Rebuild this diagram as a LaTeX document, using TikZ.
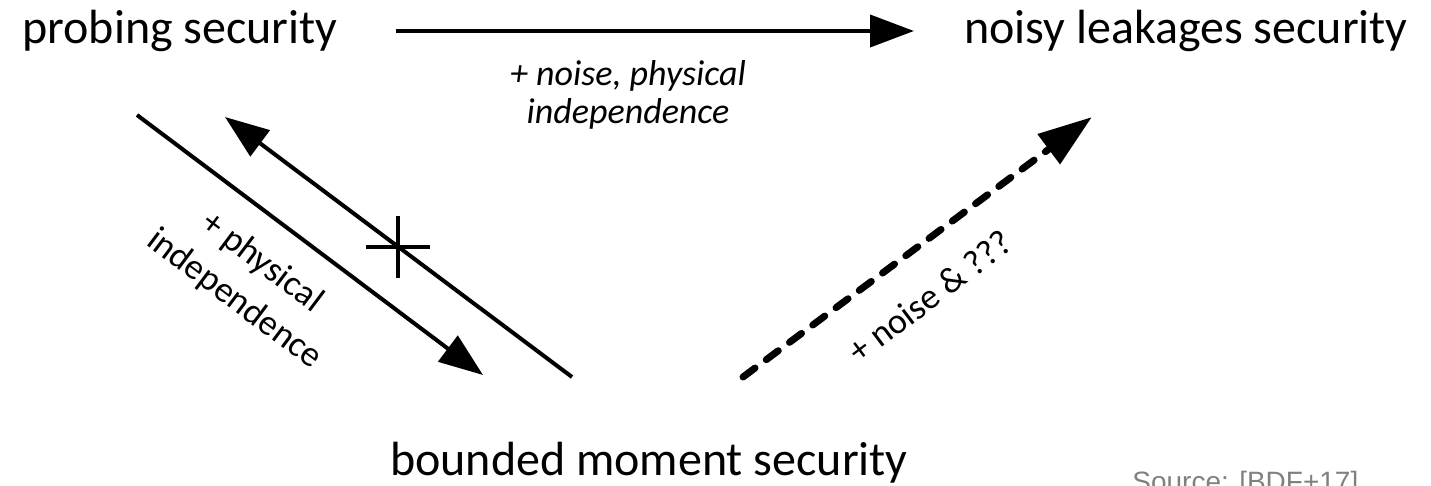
\documentclass[tikz,border=0pt]{standalone}
\usepackage{fontspec}
\setmainfont{Carlito}
\newfontfamily\sourcefont{Liberation Sans}
\usetikzlibrary{arrows.meta,positioning}
\tikzset{
	notion/.style={inner sep=0pt, font=\fontsize{24}{28}\selectfont},
	remark/.style={inner sep=0pt, align=center, font=\fontsize{18}{23}\selectfont},
	implies/.style={line width=2pt, -{Triangle[length=22pt,width=16pt]}},
	maybe/.style={line width=3.5pt, line cap=round, dash pattern=on 7.5pt off 7pt, -{Triangle[length=27pt,width=18pt]}}
}

\begin{document}
\begin{tikzpicture}[x=0.5pt,y=-0.5pt]
		\useasboundingbox (0,0) rectangle (1431,486);
		% Draw the notions
		\node[notion, anchor=base west] (probing) at (22,44) {probing security};
		\node[notion, anchor=base east] (noisy) at (1408,44) {noisy leakages security};
		\node[notion, anchor=base] (bounded) at (649,475) {bounded moment security};
		% Ends of the arrows
		\coordinate (p1) at (396,31);
		\coordinate (n1) at (914,31);
		\coordinate (p2) at (137,115);
		\coordinate (b1) at (483,375);
		\coordinate (b2) at (572,377);
		\coordinate (p3) at (225,117);
		\coordinate (b3) at (743,377);
		\coordinate (n2) at (1092,117);
		\coordinate (cross) at (398,247);
		% Draw the arrows
		\draw[implies] (p1) -- (n1);
		\draw[implies] (p2) -- (b1);
		\draw[implies] (b2) -- (p3);
		\draw[maybe] (b3) -- (n2);
		% Draw the cross
		\draw[line width=1.75pt] (cross) ++(-32,0) -- ++(64,0);
		\draw[line width=1.75pt] (cross) ++(0,-31) -- ++(0,62);
		% Draw the labels
		\node[remark, font=\fontsize{18}{19}\selectfont\itshape, anchor=north] (topnote) at (628,60) {+ noise, physical\\independence};
		\node[remark, rotate=-37] (leftnote) at (248,281) {+ physical\\independence};
		\node[remark, rotate=37] (rightnote) at (930,296) {+ noise \& ???};
		\node[anchor=base west, inner sep=0pt, text=gray, font=\sourcefont\fontsize{14}{16}\selectfont] (source) at (1132,492) {Source: [BDF+17]};
	\end{tikzpicture}
\end{document}
